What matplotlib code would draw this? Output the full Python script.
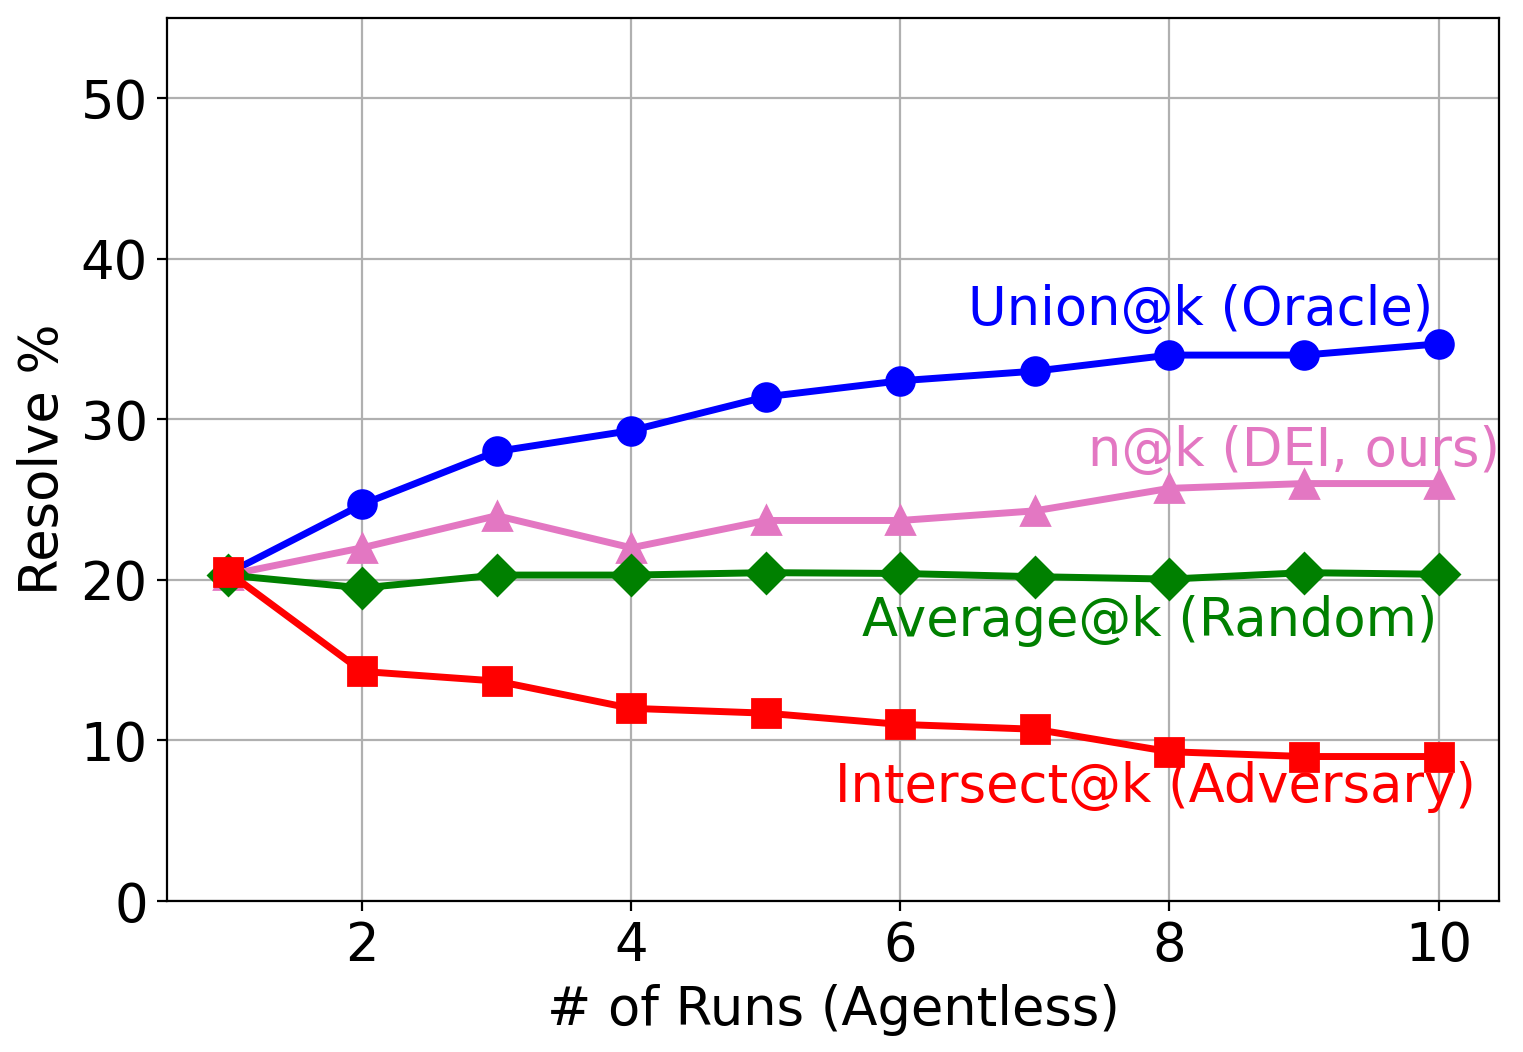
import numpy as np
import matplotlib
matplotlib.use('Agg')
import matplotlib.pyplot as plt

# Data
runs = [1, 2, 3, 4, 5, 6, 7, 8, 9, 10]
union_k = [20.4, 24.7, 28.0, 29.3, 31.4, 32.4, 33.0, 34.0, 34.0, 34.7]
n_k = [20.3, 22.0, 24.0, 22.0, 23.7, 23.7, 24.3, 25.7, 26.0, 26.0]
average_k = [20.3, 19.5, 20.3, 20.3, 20.45, 20.4, 20.2, 20.05, 20.45, 20.35]
intersect_k = [20.5, 14.3, 13.7, 12.0, 11.7, 11.0, 10.7, 9.3, 9.0, 9.0]

fig, ax = plt.subplots(figsize=(7.615, 5.26), dpi=200)
fig.subplots_adjust(left=0.1097, right=0.9843, top=0.983, bottom=0.1435)

ax.plot(runs, union_k, color='blue', marker='o', lw=2.5, ms=10, zorder=3)
ax.plot(runs, n_k, color='tab:pink', marker='^', lw=2.5, ms=10, zorder=3)
ax.plot(runs, average_k, color='green', marker='D', lw=2.5, ms=10, zorder=3)
ax.plot(runs, intersect_k, color='red', marker='s', lw=2.5, ms=10, zorder=3)

fs = 19
ax.text(9.96, 36.8, 'Union@k (Oracle)', color='blue', fontsize=fs, ha='right', va='center')
ax.text(10.46, 28.05, 'n@k (DEI, ours)', color='tab:pink', fontsize=fs, ha='right', va='center')
ax.text(9.99, 17.45, 'Average@k (Random)', color='green', fontsize=fs, ha='right', va='center')
ax.text(10.28, 7.1, 'Intersect@k (Adversary)', color='red', fontsize=fs, ha='right', va='center')

ax.set_ylim(0, 55)
ax.set_yticks([0, 10, 20, 30, 40, 50])
ax.set_xticks([2, 4, 6, 8, 10])
ax.tick_params(labelsize=fs)
ax.set_xlabel('# of Runs (Agentless)', fontsize=fs)
ax.set_ylabel('Resolve %', fontsize=fs)
ax.grid(True)

fig.savefig('out.png', dpi=200)
